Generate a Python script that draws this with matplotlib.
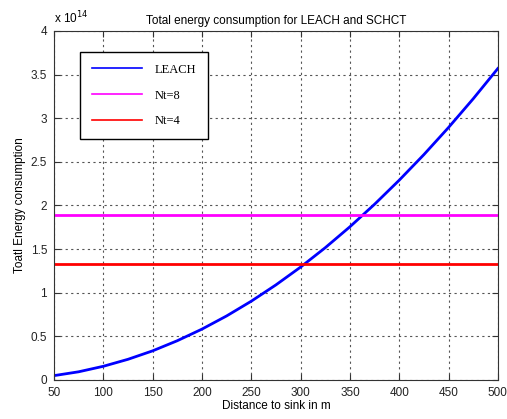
import matplotlib.pyplot as plt
from matplotlib.ticker import FuncFormatter

# distance to sink (m) and LEACH energy (units of 1e14)
distance = [50, 75, 100, 125, 150, 175, 200, 225, 250, 275, 300,
            325, 350, 375, 400, 425, 450, 475, 500]
leach = [0.05, 0.094, 0.157, 0.237, 0.334, 0.45, 0.583, 0.734, 0.903, 1.09, 1.294,
         1.516, 1.756, 2.014, 2.29, 2.583, 2.894, 3.223, 3.57]
nt8 = 1.89
nt4 = 1.33

plt.rcParams['font.family'] = ['Liberation Sans', 'DejaVu Sans']

fig = plt.figure(figsize=(5.07, 4.19), dpi=100)
ax = fig.add_axes([0.1065, 0.0931, 0.8755, 0.833])

ax.plot(distance, leach, color="#0000ff", lw=2, label="LEACH")
ax.plot([distance[0], distance[-1]], [nt8, nt8], color="#ff00ff", lw=2, label="Nt=8")
ax.plot([distance[0], distance[-1]], [nt4, nt4], color="#ff0000", lw=2, label="Nt=4")

ax.set_xlim(50, 500)
ax.set_ylim(0, 4)
ax.set_xticks(range(50, 501, 50))
ax.set_yticks([0, 0.5, 1, 1.5, 2, 2.5, 3, 3.5, 4])
ax.yaxis.set_major_formatter(FuncFormatter(lambda v, p: f"{v:g}"))
ax.tick_params(direction="in", top=True, right=True, labelsize=8.5, length=4, pad=5,
               colors="#333333", labelcolor="#222222")
ax.grid(True, linestyle=(0, (2, 3)), color="#555555", lw=0.8)
for s in ax.spines.values():
    s.set_color("#333333")

ax.set_title("Total energy consumption for LEACH and SCHCT", fontsize=8.5, pad=5)
ax.set_xlabel("Distance to sink in m", fontsize=8.5, labelpad=1)
ax.set_ylabel("Toatl Energy consumption", fontsize=8.5, labelpad=3)
ax.text(0.0, 1.012, "x 10$^{14}$", transform=ax.transAxes, fontsize=8.5, ha="left", va="bottom")

leg = ax.legend(loc="upper left", bbox_to_anchor=(0.059, 0.94), fancybox=False,
                framealpha=1, edgecolor="black", handlelength=4.0, borderpad=0.95,
                labelspacing=1.1, borderaxespad=0, handletextpad=1.0,
                prop={"family": "Liberation Serif", "size": 9})
leg.get_frame().set_linewidth(1.0)
for h in leg.get_lines():
    h.set_linewidth(1.2)

fig.savefig("out.png", dpi=100)
